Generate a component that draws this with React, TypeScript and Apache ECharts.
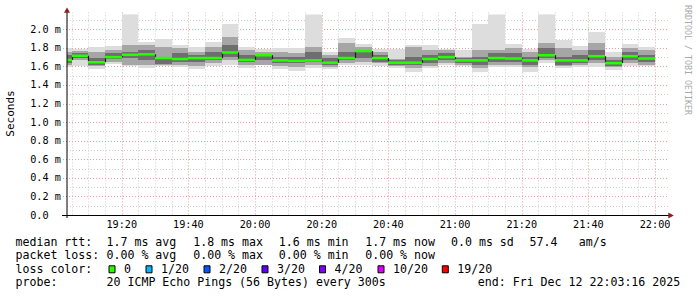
import React, { useEffect, useRef } from "react";
import * as echarts from "echarts";

const MONO = '"DejaVu Sans Mono", monospace';

// 5-minute slots (start time of each smoke column)
const slotStart = ["19:00","19:05","19:10","19:15","19:20","19:25","19:30","19:35","19:40","19:45","19:50","19:55","20:00","20:05","20:10","20:15","20:20","20:25","20:30","20:35","20:40","20:45","20:50","20:55","21:00","21:05","21:10","21:15","21:20","21:25","21:30","21:35","21:40","21:45","21:50","21:55"];
const slotLength = 5; // minutes

// ping RTT values (ms)
const pingMax = [1.795,1.79,1.81,1.82,2.3,1.86,1.9,1.835,1.81,1.86,2.06,1.81,1.785,1.8,1.8,2.3,1.755,1.905,1.84,1.79,1.785,1.83,1.83,1.79,1.78,2.06,2.3,1.845,1.79,2.3,1.885,1.825,1.97,1.76,1.845,1.81];
const pingMin = [1.59,1.605,1.57,1.63,1.6,1.58,1.6,1.59,1.57,1.605,1.615,1.58,1.615,1.57,1.555,1.58,1.57,1.615,1.62,1.605,1.58,1.545,1.58,1.615,1.605,1.54,1.59,1.59,1.545,1.64,1.58,1.59,1.595,1.56,1.605,1.605];
const midHigh = [1.76,1.77,1.76,1.78,1.83,1.83,1.81,1.795,1.76,1.81,1.92,1.78,1.76,1.76,1.74,1.81,1.72,1.85,1.81,1.76,1.68,1.81,1.78,1.78,1.705,1.78,1.78,1.795,1.76,1.85,1.795,1.78,1.85,1.705,1.795,1.78];
const midLow = [1.615,1.67,1.6,1.65,1.62,1.615,1.615,1.615,1.605,1.634,1.67,1.615,1.615,1.6,1.59,1.615,1.59,1.634,1.65,1.634,1.605,1.58,1.605,1.64,1.615,1.58,1.615,1.615,1.59,1.67,1.605,1.615,1.634,1.59,1.634,1.615];
const coreHigh = [1.72,1.74,1.69,1.74,1.76,1.78,1.7,1.74,1.72,1.76,1.83,1.72,1.72,1.705,1.705,1.76,1.69,1.76,1.78,1.72,1.67,1.705,1.72,1.74,1.69,1.705,1.74,1.74,1.705,1.795,1.705,1.72,1.78,1.67,1.76,1.72];
const coreLow = [1.64,1.69,1.615,1.68,1.69,1.67,1.63,1.65,1.65,1.67,1.705,1.645,1.67,1.634,1.634,1.65,1.615,1.67,1.69,1.65,1.615,1.615,1.64,1.67,1.634,1.615,1.65,1.65,1.615,1.69,1.615,1.64,1.67,1.605,1.67,1.65];
const medianRtt = [1.67,1.715,1.645,1.7,1.725,1.73,1.69,1.68,1.69,1.69,1.75,1.67,1.72,1.665,1.66,1.665,1.64,1.69,1.765,1.69,1.64,1.64,1.68,1.7,1.665,1.665,1.69,1.685,1.665,1.72,1.665,1.665,1.71,1.635,1.71,1.685];

// axes
const viewStart = "19:03:35";
const viewEnd = "22:03:35";
const timeTicks = ["19:20","19:40","20:00","20:20","20:40","21:00","21:20","21:40","22:00"];
const minorTimeLines = ["19:05","19:10","19:15","19:25","19:30","19:35","19:45","19:50","19:55","20:05","20:10","20:15","20:25","20:30","20:35","20:45","20:50","20:55","21:05","21:10","21:15","21:25","21:30","21:35","21:45","21:50","21:55"];
const yMax = 2.16;
const yMajor = [0.2,0.4,0.6,0.8,1.0,1.2,1.4,1.6,1.8,2.0];
const yMinor = [0.1,0.3,0.5,0.7,0.9,1.1,1.3,1.5,1.7,1.9,2.1];

// legend texts
const rttStats = ["1.7 ms avg","1.8 ms max","1.6 ms min","1.7 ms now","0.0 ms sd","57.4","am/s"];
const lossStats = ["0.00 % avg","0.00 % max","0.00 % min","0.00 % now"];
const lossLabels = ["0","1/20","2/20","3/20","4/20","10/20","19/20"];
const lossColors = ["#26ff00","#00b8ff","#0059ff","#5e00ff","#7e00ff","#dd00ff","#ff0000"];
const probeText = "20 ICMP Echo Pings (56 Bytes) every 300s";
const endText = "end: Fri Dec 12 22:03:16 2025";

const toMin = (s: string) => {
  const p = s.split(":").map(Number);
  return p[0] * 60 + p[1] + (p[2] || 0) / 60;
};
const fmtMin = (m: number) => {
  const h = Math.floor(m / 60);
  const mm = Math.round(m - h * 60);
  return `${h}:${mm < 10 ? "0" : ""}${mm}`;
};

function buildOption(): any {
  const xMin = toMin(viewStart);
  const xMax = toMin(viewEnd);
  const smokeData = slotStart.map((s, i) => {
    const a = toMin(s);
    return [a, a + slotLength, pingMin[i], pingMax[i], midLow[i], midHigh[i], coreLow[i], coreHigh[i], medianRtt[i], i > 0 ? medianRtt[i - 1] : medianRtt[i]];
  });

  const clip = (r: any, cs: any) =>
    echarts.graphic.clipRectByRect(r, { x: cs.x, y: cs.y, width: cs.width, height: cs.height });

  const bandColors = ["#dddddd", "#a6a6a6", "#6e6e6e"];

  const renderSmoke = (params: any, api: any) => {
    const cs = params.coordSys;
    const s = api.value(0);
    const e = api.value(1);
    const children: any[] = [];
    for (let b = 0; b < 3; b++) {
      const p1 = api.coord([s, api.value(3 + b * 2)]);
      const p2 = api.coord([e, api.value(2 + b * 2)]);
      const x1 = Math.round(p1[0]);
      const x2 = Math.round(p2[0]);
      const y1 = Math.round(p1[1]);
      const y2 = Math.round(p2[1]);
      const r = clip({ x: x1, y: y1, width: x2 - x1, height: y2 - y1 }, cs);
      if (r) children.push({ type: "rect", shape: r, style: { fill: bandColors[b] } });
    }
    const m1 = api.coord([s, api.value(8)]);
    const m2 = api.coord([e, api.value(8)]);
    const pm = api.coord([s, api.value(9)]);
    const xs = Math.round(m1[0]);
    const xe = Math.round(m2[0]);
    if (xs >= cs.x) {
      children.push({
        type: "line",
        shape: { x1: xs + 0.5, y1: pm[1], x2: xs + 0.5, y2: m1[1] },
        style: { stroke: "#1e1e1e", lineWidth: 1.2 },
      });
    }
    const mr = clip({ x: xs, y: m1[1] - 1.25, width: xe - xs, height: 2.5 }, cs);
    if (mr) children.push({ type: "rect", shape: mr, style: { fill: lossColors[0] } });
    return { type: "group", children };
  };

  const vLine = (color: string) => (params: any, api: any) => {
    const cs = params.coordSys;
    const x = Math.round(api.coord([api.value(0), 0])[0]) + 0.5;
    return {
      type: "line",
      shape: { x1: x, y1: cs.y - 2, x2: x, y2: cs.y + cs.height },
      style: { stroke: color, lineWidth: 1, lineDash: [1, 2] },
    };
  };
  const hLine = (color: string, ext: number) => (params: any, api: any) => {
    const cs = params.coordSys;
    const y = Math.round(api.coord([xMin, api.value(1)])[1]) + 0.5;
    return {
      type: "line",
      shape: { x1: cs.x - ext, y1: y, x2: cs.x + cs.width + 2, y2: y },
      style: { stroke: color, lineWidth: 1, lineDash: [1, 2] },
    };
  };

  const minorC = "#cfcfcf";
  const majorC = "#e6a0a0";

  const legendFont = { fontFamily: MONO, fontSize: 11.6, fill: "#000", verticalAlign: "middle" };
  const rows = [241.5, 255, 268.8, 282.3];
  const statX = [106.5, 193.2, 278.8, 365.2, 451, 529.5, 578.8];
  const sqX = [109, 146, 204, 262, 319.5, 378, 442.3];

  const graphics: any[] = [];
  const txt = (x: number, y: number, text: string, extra: any = {}) =>
    graphics.push({ type: "text", x, y, silent: true, style: { ...legendFont, text, ...extra } });

  txt(15.5, rows[0], "median rtt:");
  rttStats.forEach((t, i) => txt(statX[i], rows[0], t));
  txt(15.5, rows[1], "packet loss:");
  lossStats.forEach((t, i) => txt(statX[i], rows[1], t));
  txt(15.5, rows[2], "loss color:");
  lossLabels.forEach((t, i) => {
    graphics.push({
      type: "rect",
      silent: true,
      shape: { x: sqX[i], y: 265.8, width: 6, height: 7 },
      style: { fill: lossColors[i], stroke: "#000", lineWidth: 1 },
    });
    txt(sqX[i] + 15, rows[2], t);
  });
  txt(15.5, rows[3], "probe:");
  txt(106.5, rows[3], probeText);
  txt(477.8, rows[3], endText);

  // axis title and watermark
  graphics.push({
    type: "text", x: 10.5, y: 113.5, rotation: Math.PI / 2, silent: true,
    style: { text: "Seconds", fontFamily: MONO, fontSize: 11, fill: "#000", align: "center", verticalAlign: "middle" },
  });
  graphics.push({
    type: "text", x: 687.5, y: 60, rotation: -Math.PI / 2, silent: true,
    style: { text: "RRDTOOL / TOBI OETIKER", fontFamily: MONO, fontSize: 8.3, fill: "#aaaaaa", align: "center", verticalAlign: "middle" },
  });
  // axis lines and arrows
  graphics.push({ type: "line", silent: true, z: 100, shape: { x1: 67, y1: 218, x2: 67, y2: 11 }, style: { stroke: "#000", lineWidth: 1 } });
  graphics.push({ type: "line", silent: true, z: 100, shape: { x1: 62, y1: 215.5, x2: 669, y2: 215.5 }, style: { stroke: "#000", lineWidth: 1 } });
  graphics.push({ type: "polygon", silent: true, z: 101, shape: { points: [[67, 7.5], [64, 12.8], [70, 12.8]] }, style: { fill: "#8f1c1c" } });
  graphics.push({ type: "polygon", silent: true, z: 101, shape: { points: [[673.8, 215.5], [668.3, 212.5], [668.3, 218.5]] }, style: { fill: "#8f1c1c" } });

  return {
    animation: false,
    backgroundColor: "#ffffff",
    grid: { left: 67, right: 30, top: 215 - 200.6, bottom: 82, containLabel: false },
    xAxis: {
      type: "value",
      min: xMin,
      max: xMax,
      axisLine: { show: false },
      axisTick: { show: false },
      splitLine: { show: false },
      axisLabel: {
        customValues: timeTicks.map(toMin),
        formatter: (v: number) => fmtMin(v),
        fontFamily: MONO,
        fontSize: 10.2,
        color: "#000",
        margin: 4,
      },
    },
    yAxis: {
      type: "value",
      min: 0,
      max: yMax,
      interval: 0.2,
      axisLine: { show: false },
      axisTick: { show: false },
      splitLine: { show: false },
      axisLabel: {
        showMaxLabel: false,
        formatter: (v: number) => (v === 0 ? "0.0" : `${v.toFixed(1)} m`),
        fontFamily: MONO,
        fontSize: 10.2,
        color: "#000",
        align: "left",
        margin: 36.8,
      },
    },
    series: [
      { type: "custom", z: 1, silent: true, renderItem: vLine(minorC), encode: { x: 0, y: 1 }, data: minorTimeLines.map((t) => [toMin(t), 0]) },
      { type: "custom", z: 1, silent: true, renderItem: hLine(minorC, 0), encode: { x: 0, y: 1 }, data: yMinor.map((v) => [xMin, v]) },
      { type: "custom", z: 2, silent: true, renderItem: vLine(majorC), encode: { x: 0, y: 1 }, data: timeTicks.map((t) => [toMin(t), 0]) },
      { type: "custom", z: 2, silent: true, renderItem: hLine(majorC, 4), encode: { x: 0, y: 1 }, data: yMajor.map((v) => [xMin, v]) },
      {
        type: "custom",
        z: 5,
        silent: true,
        renderItem: renderSmoke,
        encode: { x: [0, 1], y: [2, 3] },
        data: smokeData,
      },
    ],
    graphic: graphics,
  };
}

export default function App() {
  const ref = useRef<HTMLDivElement>(null);
  useEffect(() => {
    const chart = echarts.init(ref.current!, null, { renderer: "svg" });
    chart.setOption(buildOption());
    return () => chart.dispose();
  }, []);
  return (
    <div
      ref={ref}
      style={{ position: "absolute", left: 0, top: 0, width: 697, height: 297, background: "#fff" }}
    />
  );
}
